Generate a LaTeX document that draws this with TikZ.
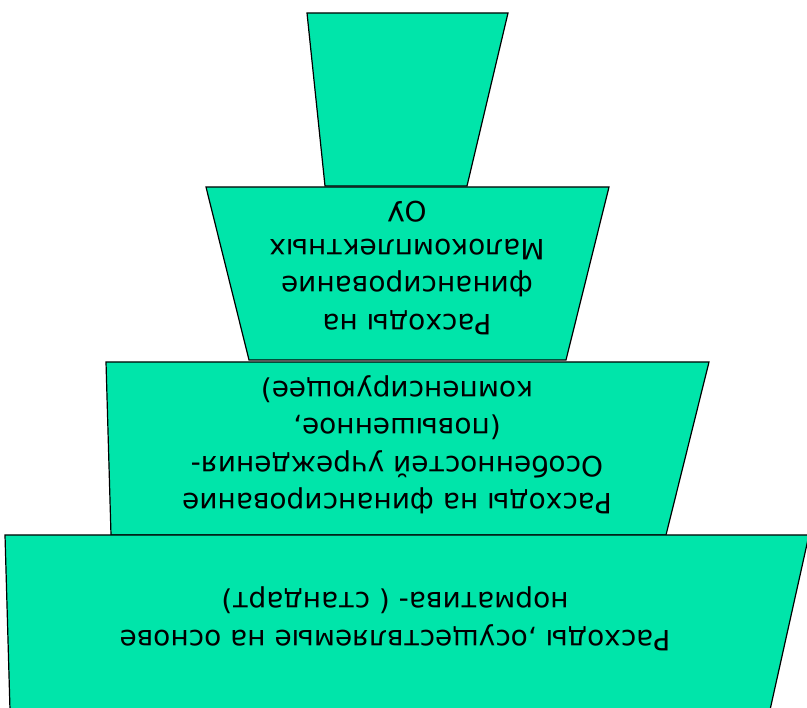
\documentclass[tikz,border=0pt]{standalone}
\usepackage{fontspec}
\setmainfont{DejaVu Sans}
\usepackage{xcolor}
\usepackage{tikz}

\definecolor{tiergreen}{RGB}{0,229,170}

\begin{document}
\begin{tikzpicture}[x=1pt,y=-1pt,
  tier/.style={draw=black, fill=tiergreen, line width=1.2pt, line join=miter},
  tiertext/.style={align=center, rotate=180, font=\fontsize{28}{37.5}\selectfont}]

\useasboundingbox (0,0) rectangle (807,708);

% Top tier
\draw[tier] (307,13) -- (508,13) -- (467,186) -- (325,186) -- cycle;

% Small schools tier
\draw[tier] (206,187) -- (609,187) -- (566,360) -- (249,360) -- cycle;
\node[tiertext] (small) at (407,268) {Расходы на\\финансирование\\Малокомплектных\\ОУ};

% Special features tier
\draw[tier] (106,362) -- (709,362) -- (666,535) -- (111,535) -- cycle;
\node[tiertext] (special) at (397,445) {Расходы на финансирование\\Особенностей учреждения-\\(повышенное,\\компенсирующее)};

% Standard tier
\draw[tier] (5,535) -- (809,535) -- (770,710) -- (10,710) -- cycle;
\node[tiertext] (standard) at (395,619) {Расходы ,осуществляемые на основе\\норматива- ( стандарт)};

\end{tikzpicture}
\end{document}
